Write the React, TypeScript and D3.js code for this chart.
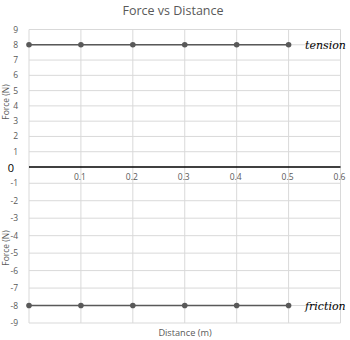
import React from "react";
import * as d3 from "d3";

const distance = [0, 0.1, 0.2, 0.3, 0.4, 0.5];
const tension = [8, 8, 8, 8, 8, 8];
const friction = [-8, -8, -8, -8, -8, -8];
const xTicks = [0.1, 0.2, 0.3, 0.4, 0.5, 0.6];
const xGrid = [0, 0.1, 0.2, 0.3, 0.4, 0.5, 0.6];
const topTicks = [1, 2, 3, 4, 5, 6, 7, 8, 9];
const bottomTicks = [-1, -2, -3, -4, -5, -6, -7, -8, -9];

export default function App() {
  const W = 350, H = 340;
  const x = d3.scaleLinear().domain([0, 0.6]).range([29, 340.5]);
  const yTop = d3.scaleLinear().domain([0, 9]).range([167, 29.5]);
  const yBot = d3.scaleLinear().domain([-9, 0]).range([323, 165.8]);
  const line = (ys: number[], y: d3.ScaleLinear<number, number>) =>
    d3.line<number>().x((_, i) => x(distance[i])).y((v) => y(v))(ys) || "";
  const grid = "#d9d9d9";
  const txt = "#595959";
  const font = "'Open Sans', 'Noto Sans', sans-serif";
  return (
    <svg width={W} height={H} style={{ position: "absolute", left: 0, top: 0, background: "#fff" }} fontFamily={font}>
      <rect width={W} height={H} fill="#fff" />
      <text x={173} y={15} textAnchor="middle" fontSize={12.5} fill={txt}>Force vs Distance</text>
      {topTicks.map((t) => (
        <line key={"tg" + t} x1={x(0)} x2={x(0.6)} y1={yTop(t)} y2={yTop(t)} stroke={grid} strokeWidth={1} />
      ))}
      {bottomTicks.map((t) => (
        <line key={"bg" + t} x1={x(0)} x2={x(0.6)} y1={yBot(t)} y2={yBot(t)} stroke={grid} strokeWidth={1} />
      ))}
      {xGrid.map((t) => (
        <line key={"vg" + t} x1={x(t)} x2={x(t)} y1={yTop(9)} y2={yBot(-9)} stroke={grid} strokeWidth={1} />
      ))}
      <line x1={x(0)} x2={x(0.6)} y1={yTop(0)} y2={yTop(0)} stroke="#000" strokeWidth={1.3} />
      {xTicks.map((t) => (
        <text key={"xt" + t} x={x(t) - 1} y={180} textAnchor="middle" fontSize={8.5} fill={txt}>{t}</text>
      ))}
      {topTicks.map((t) => (
        <text key={"tt" + t} x={18} y={yTop(t) + 3} textAnchor="end" fontSize={8.5} fill={txt}>{t}</text>
      ))}
      {bottomTicks.map((t) => (
        <text key={"bt" + t} x={18} y={yBot(t) + 3} textAnchor="end" fontSize={8.5} fill={txt}>{t}</text>
      ))}
      <text x={11} y={172} textAnchor="middle" fontSize={11} fill="#000">0</text>
      <text transform={`translate(9,${102}) rotate(-90)`} textAnchor="middle" fontSize={8.5} fill={txt}>Force (N)</text>
      <text transform={`translate(9,${248}) rotate(-90)`} textAnchor="middle" fontSize={8.5} fill={txt}>Force (N)</text>
      <text x={185} y={336} textAnchor="middle" fontSize={9.2} fill={txt}>Distance (m)</text>
      <path d={line(tension, yTop)} fill="none" stroke="#595959" strokeWidth={1.6} />
      {tension.map((v, i) => (
        <circle key={"tp" + i} cx={x(distance[i])} cy={yTop(v)} r={2.8} fill="#595959" />
      ))}
      <path d={line(friction, yBot)} fill="none" stroke="#595959" strokeWidth={1.6} />
      {friction.map((v, i) => (
        <circle key={"fp" + i} cx={x(distance[i])} cy={yBot(v)} r={2.8} fill="#595959" />
      ))}
      <text x={305} y={48.5} fontSize={11} fontStyle="italic" fontFamily="'DejaVu Serif', serif" fill="#000">tension</text>
      <text x={305} y={310} fontSize={11} fontStyle="italic" fontFamily="'DejaVu Serif', serif" fill="#000">friction</text>
    </svg>
  );
}
